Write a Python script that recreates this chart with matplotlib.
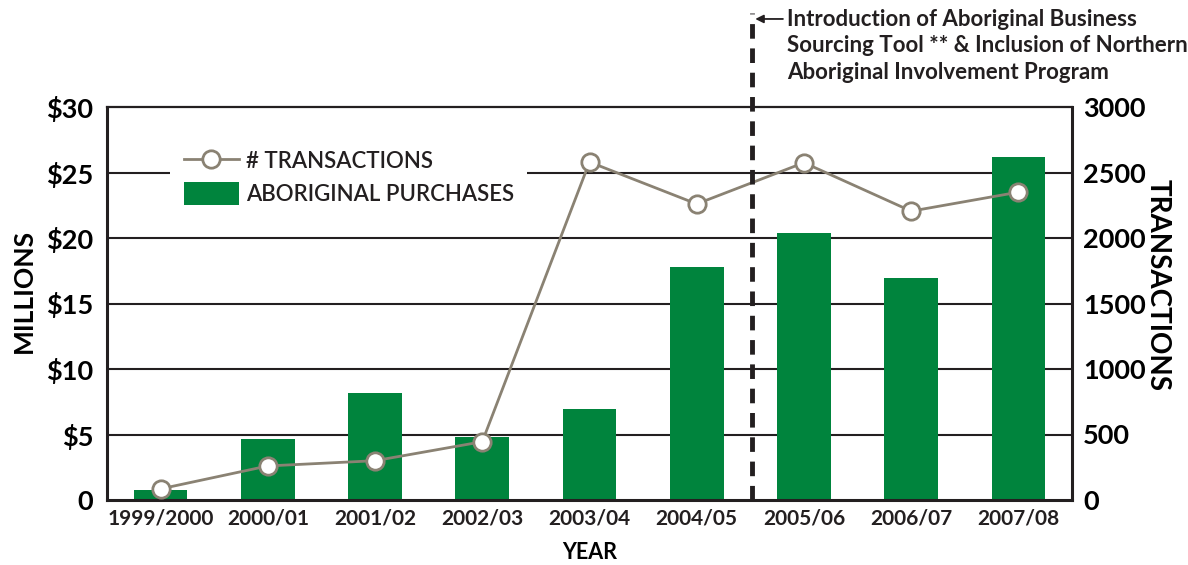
import numpy as np
import matplotlib.pyplot as plt

# Datos del grafico
years = ['1999/2000', '2000/01', '2001/02', '2002/03', '2003/04',
         '2004/05', '2005/06', '2006/07', '2007/08']
purchases = [0.8, 4.65, 8.15, 4.8, 6.95, 17.8, 20.4, 16.95, 26.2]
transactions = [85, 260, 300, 445, 2580, 2260, 2575, 2205, 2350]
left_labels = ['0', '$5', '$10', '$15', '$20', '$25', '$30']
right_labels = ['0', '500', '1000', '1500', '2000', '2500', '3000']
note = ('Introduction of Aboriginal Business\n'
        'Sourcing Tool ** & Inclusion of Northern\n'
        'Aboriginal Involvement Program')

plt.rcParams['font.family'] = ['Lato', 'DejaVu Sans']
dark = '#231f20'
green = '#00843d'
grey = '#8a8273'

fig = plt.figure(figsize=(11.88, 5.65), dpi=100)
ax = fig.add_axes([107 / 1188, 65 / 565, 965 / 1188, 393 / 565])
x = np.arange(len(years))

# Lineas de cuadricula
for v in [5, 10, 15, 20, 25]:
    ax.axhline(v, color=dark, lw=1.5, zorder=1)

bars = ax.bar(x, purchases, width=0.5, color=green, zorder=2,
              label='ABORIGINAL PURCHASES')
ax.set_xlim(-0.5, 8.5)
ax.set_ylim(0, 30)
ax.set_yticks(range(0, 31, 5))
ax.set_yticklabels(left_labels, fontsize=19.5, fontweight='bold', color='black')
ax.set_xticks(x)
ax.set_xticklabels(years, fontsize=15, fontweight='bold', color=dark)
ax.tick_params(length=0, pad=6)
ax.tick_params(axis='y', pad=10)

for side in ['left', 'bottom', 'right']:
    ax.spines[side].set_linewidth(2.2)
    ax.spines[side].set_color(dark)
ax.spines['top'].set_linewidth(1.6)
ax.spines['top'].set_color(dark)

ax2 = ax.twinx()
ax2.set_ylim(0, 3000)
line, = ax2.plot(x, transactions, color=grey, lw=2, marker='o', ms=12.5,
                 mfc='white', mec=grey, mew=2, zorder=3,
                 label='# TRANSACTIONS')
ax2.set_yticks(range(0, 3001, 500))
ax2.set_yticklabels(right_labels, fontsize=19.5, fontweight='bold', color='black')
ax2.tick_params(length=0, pad=8)
for s in ax2.spines.values():
    s.set_visible(False)

ax.set_ylabel('MILLIONS', fontsize=19, fontweight='bold')
ax.yaxis.set_label_coords(-0.074, 0.532)
ax2.set_ylabel('TRANSACTIONS', fontsize=20, fontweight='bold', rotation=-90)
ax2.yaxis.set_label_coords(1.102, 0.547)
ax.set_xlabel('YEAR', fontsize=15.5, fontweight='bold', labelpad=10)

# Linea punteada de la introduccion
ax2.plot([5.52, 5.52], [0, 3720], color=dark, lw=3.5, ls=(0, (3, 2)),
         clip_on=False, zorder=4)
ax2.annotate('', xy=(5.52, 3672), xytext=(5.83, 3672),
             arrowprops=dict(arrowstyle='-|>', color=dark, lw=1.3,
                             mutation_scale=12),
             annotation_clip=False)
ax2.text(5.84, 3748, note, fontsize=16, fontweight='bold', color=dark,
         va='top', ha='left', linespacing=1.32)

leg = ax2.legend([line, bars], ['# TRANSACTIONS', 'ABORIGINAL PURCHASES'],
                 loc='upper left', bbox_to_anchor=(0.054, 0.955),
                 frameon=True, facecolor='white', edgecolor='none',
                 framealpha=1, fancybox=False, fontsize=16,
                 handlelength=2.5, handleheight=1.2, labelspacing=0.45,
                 handletextpad=0.3, borderpad=0.6)
for t in leg.get_texts():
    t.set_color(dark)
    t.set_fontweight('semibold')
leg.set_zorder(5)

fig.savefig('out.png', dpi=100)
